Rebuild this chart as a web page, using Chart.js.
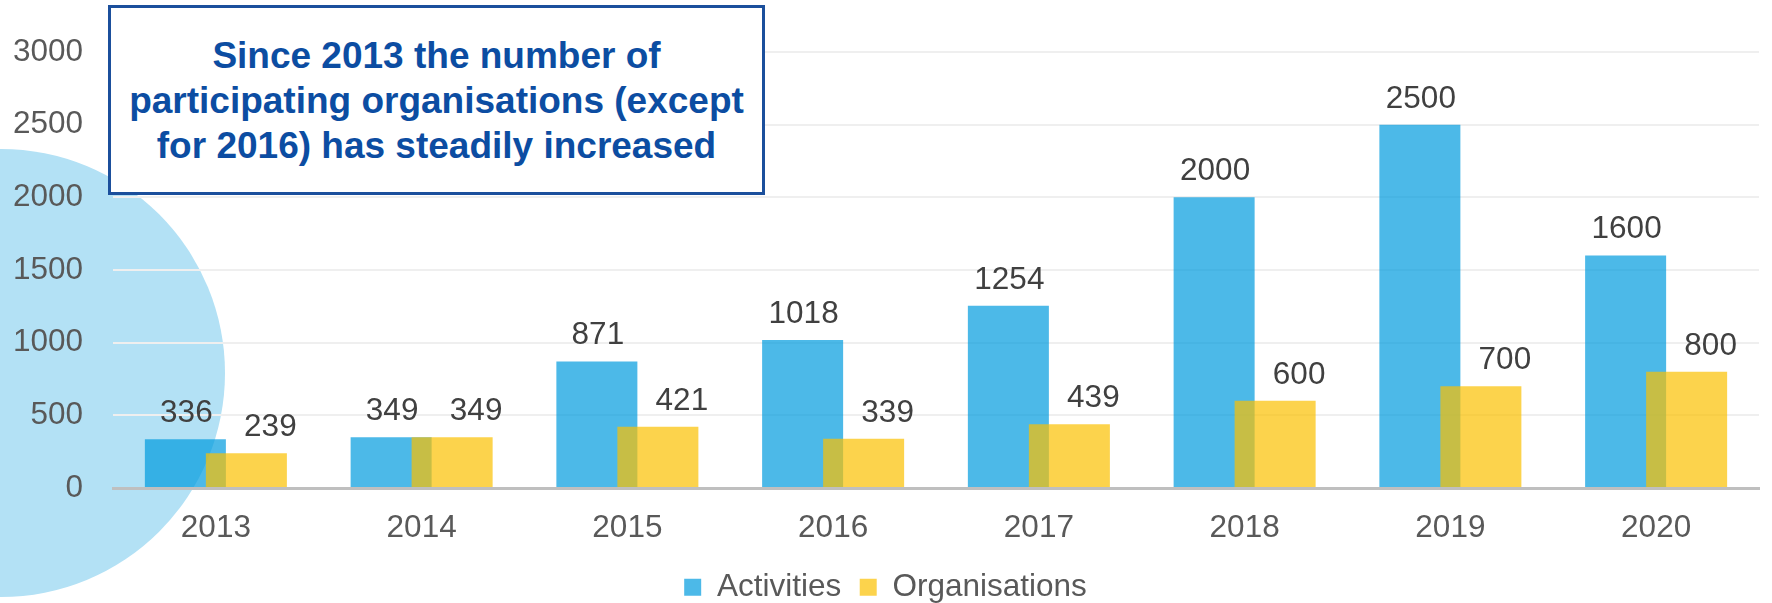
<!DOCTYPE html>
<html><head><meta charset="utf-8">
<script src="https://cdn.jsdelivr.net/npm/chart.js@4.4.1/dist/chart.umd.min.js"></script>
<style>
html,body{margin:0;padding:0;background:#fff;}
#wrap{position:relative;width:1772px;height:603px;overflow:hidden;}
#circle{position:absolute;left:-223px;top:149px;width:448px;height:448px;border-radius:50%;background:#B3E1F5;}
#c{position:absolute;left:0;top:0;}
#note{position:absolute;left:108px;top:5px;width:657px;height:190px;box-sizing:border-box;border:3px solid #1B4F9C;background:#fff;color:#0C4DA2;font:bold 37px/45px 'Liberation Sans',Arial,sans-serif;text-align:center;padding-top:25px;}
</style></head>
<body><div id="wrap"><div id="circle"></div><canvas id="c" width="1772" height="603"></canvas><div id="note">Since 2013 the number of<br>participating organisations (except<br>for 2016) has steadily increased</div></div>
<script>
const categories = ['2013','2014','2015','2016','2017','2018','2019','2020'];
const activities = [336, 349, 871, 1018, 1254, 2000, 2500, 1600];
const organisations = [239, 349, 421, 339, 439, 600, 700, 800];
const yTicks = [0, 500, 1000, 1500, 2000, 2500, 3000];

const FONT = "'Liberation Sans', Arial, sans-serif";
Chart.defaults.font.family = FONT;

const drawOrder = {
  id: 'drawOrder',
  beforeDatasetsDraw(chart) {
    for (let i = 0; i < chart.data.datasets.length; i++) {
      const meta = chart.getDatasetMeta(i);
      if (!meta.hidden) meta.controller.draw();
    }
    return false;
  }
};
const valueLabels = {
  id: 'valueLabels',
  afterDraw(chart) {
    const ctx = chart.ctx;
    ctx.save();
    ctx.font = '31.5px ' + FONT;
    ctx.fillStyle = '#404040';
    ctx.textAlign = 'center';
    ctx.textBaseline = 'alphabetic';
    const shifts = [1, 24];
    chart.data.datasets.forEach((ds, i) => {
      const meta = chart.getDatasetMeta(i);
      meta.data.forEach((bar, j) => {
        ctx.fillText(String(ds.data[j]), bar.x + shifts[i], bar.y - 17);
      });
    });
    ctx.restore();
  }
};

new Chart(document.getElementById('c'), {
  type: 'bar',
  data: {
    labels: categories,
    datasets: [
      { label: 'Activities', data: activities, backgroundColor: 'rgba(0,155,222,0.7)', borderWidth: 0 },
      { label: 'Organisations', data: organisations, backgroundColor: 'rgba(251,192,0,0.7)', borderWidth: 0 }
    ]
  },
  options: {
    responsive: false,
    animation: false,
    events: [],
    categoryPercentage: 0.593,
    barPercentage: 1.328,
    layout: { padding: { left: 12, right: 13, top: 52, bottom: 0 } },
    scales: {
      x: {
        grid: { display: false, drawTicks: false },
        border: { color: '#BFBFBF', width: 3 },
        ticks: { color: '#595959', font: { size: 31.5 }, padding: 21 },
        afterFit(scale) { scale.height = 65; }
      },
      y: {
        min: 0, max: 3000,
        afterBuildTicks(scale) { scale.ticks = yTicks.map(v => ({ value: v })); },
        grid: { color: '#EFEFEF', lineWidth: 2, drawTicks: false },
        border: { display: false },
        ticks: { color: '#595959', font: { size: 31.5 }, padding: 30, callback: (v) => String(v) },
        afterFit(scale) { scale.width = 101; }
      }
    },
    plugins: {
      tooltip: { enabled: false },
      legend: {
        position: 'bottom',
        maxHeight: 50,
        labels: { color: '#595959', font: { size: 31.5 }, boxWidth: 17, boxHeight: 17, padding: 18.5 }
      }
    }
  },
  plugins: [drawOrder, valueLabels]
});
</script>
</body></html>
